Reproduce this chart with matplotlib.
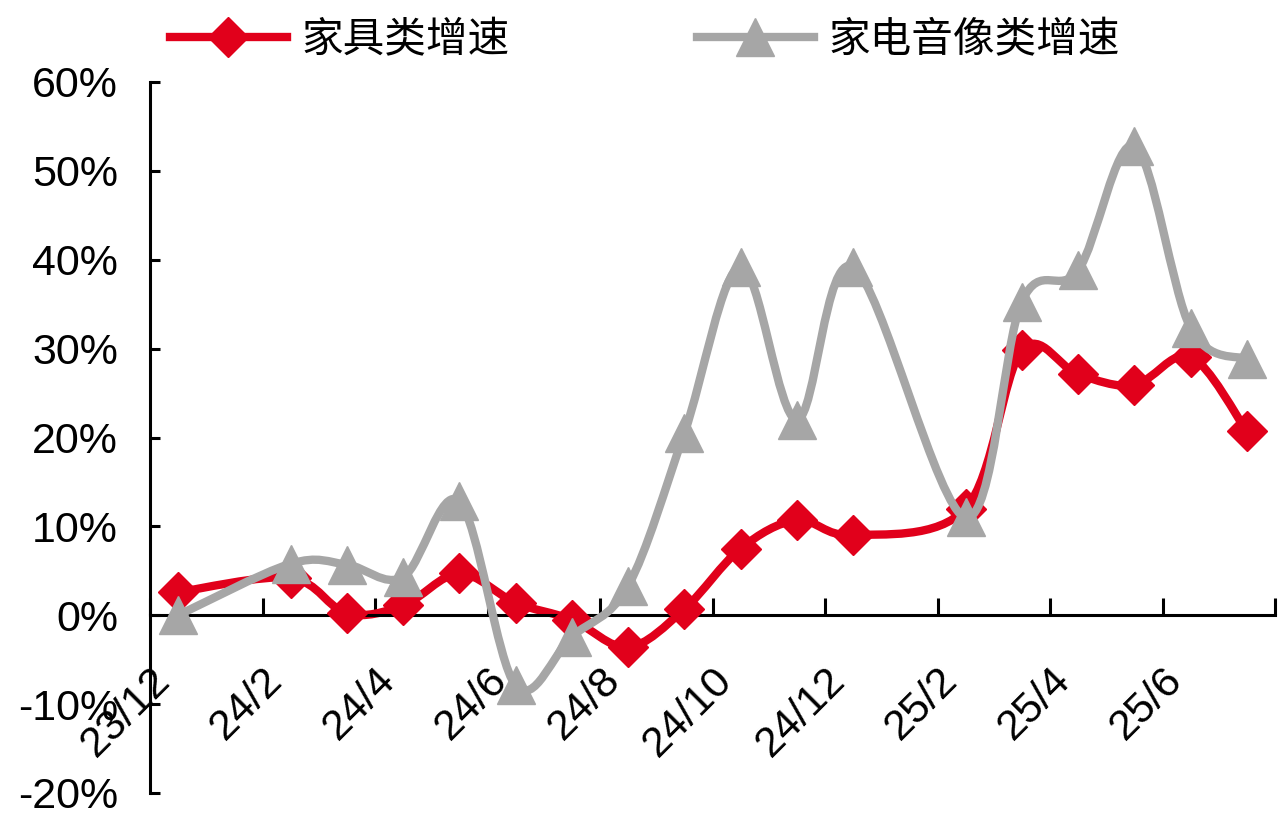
import matplotlib.pyplot as plt
from matplotlib.path import Path
from matplotlib.patches import PathPatch
from matplotlib.lines import Line2D
import numpy as np

plt.rcParams['font.family'] = ['Liberation Sans', 'Noto Sans CJK SC', 'DejaVu Sans']

# months, 24/1 and 25/1 have no data
months = ['23/12', '24/1', '24/2', '24/3', '24/4', '24/5', '24/6', '24/7', '24/8', '24/9',
          '24/10', '24/11', '24/12', '25/1', '25/2', '25/3', '25/4', '25/5', '25/6', '25/7']
furniture = [2.6, np.nan, 4.2, 0.2, 1.1, 4.7, 1.4, -0.5, -3.6, 0.7,
             7.5, 10.7, 9.0, np.nan, 12.0, 29.8, 27.1, 25.9, 29.1, 20.7]
appliance = [0.0, np.nan, 5.8, 5.7, 4.3, 12.8, -7.9, -2.4, 3.3, 20.5,
             39.2, 22.0, 39.2, np.nan, 11.0, 35.3, 38.8, 52.8, 32.3, 28.8]
names = ['家具类增速', '家电音像类增速']

RED = '#E1001B'
GREY = '#A6A6A6'


# smooth line through the points (catmull-rom as bezier), gaps are spanned
def smoothPath(xs, ys):
    pts = np.array([(x, y) for x, y in zip(xs, ys) if not np.isnan(y)])
    verts = [tuple(pts[0])]
    codes = [Path.MOVETO]
    n = len(pts)
    for i in range(n - 1):
        p0 = pts[max(i - 1, 0)]
        p1 = pts[i]
        p2 = pts[i + 1]
        p3 = pts[min(i + 2, n - 1)]
        c1 = p1 + (p2 - p0) / 6.0
        c2 = p2 - (p3 - p1) / 6.0
        verts += [tuple(c1), tuple(c2), tuple(p2)]
        codes += [Path.CURVE4] * 3
    return Path(verts, codes)


fig = plt.figure(figsize=(12.87, 8.16), dpi=100)
ax = fig.add_axes([150 / 1287, 1 - 793 / 816, 1125 / 1287, 711 / 816])

x = np.arange(len(months)) + 0.5
fur = np.array(furniture) / 100
app = np.array(appliance) / 100

ax.add_patch(PathPatch(smoothPath(x, fur), fill=False, edgecolor=RED, lw=6,
                       capstyle='round', joinstyle='round', zorder=2))
ax.plot(x, fur, linestyle='none', marker='D', ms=20, color=RED, zorder=3)
ax.add_patch(PathPatch(smoothPath(x, app), fill=False, edgecolor=GREY, lw=6,
                       capstyle='round', joinstyle='round', zorder=4))
ax.plot(x, app, linestyle='none', marker='^', ms=27, color=GREY, zorder=5)

ax.set_xlim(0, len(months))
ax.set_ylim(-0.2, 0.6)

ax.spines['top'].set_visible(False)
ax.spines['right'].set_visible(False)
ax.spines['bottom'].set_position(('data', 0))
ax.spines['left'].set_linewidth(2.2)
ax.spines['bottom'].set_linewidth(2.2)

ax.set_yticks(np.arange(-0.2, 0.61, 0.1))
ax.set_yticklabels(['%d%%' % round(v * 100) for v in np.arange(-0.2, 0.61, 0.1)])
ax.tick_params(axis='y', direction='in', length=7, width=2.2, pad=23, labelsize=31)

ax.set_xticks(np.arange(0, len(months) + 1, 2))
ax.set_xticklabels([])
ax.tick_params(axis='x', which='major', direction='in', length=12, width=2.2)
ax.set_xticks(x[::2], minor=True)
ax.set_xticklabels(months[::2], minor=True, rotation=45, ha='right', va='top')
ax.tick_params(axis='x', which='minor', length=0, pad=32, labelsize=31)

handles = [Line2D([], [], color=RED, lw=6, marker='D', ms=20),
           Line2D([], [], color=GREY, lw=6, marker='^', ms=27)]
fig.legend(handles, names, loc='upper left', bbox_to_anchor=(170 / 1287, 1 - 20 / 816),
           ncol=2, frameon=False, handlelength=2.8, handletextpad=0.35,
           columnspacing=4.5, borderpad=0, borderaxespad=0,
           prop={'family': ['Noto Sans CJK SC'], 'size': 30})

fig.savefig('out.png', dpi=100)
